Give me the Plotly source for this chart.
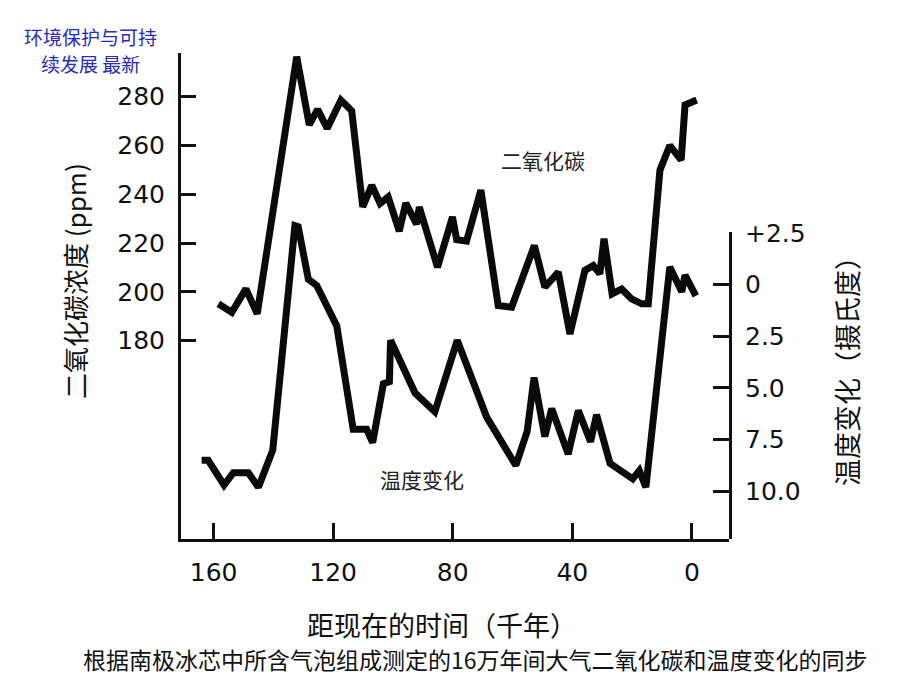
import plotly.graph_objects as go

# ---- data (thousand years before present) ----
co2_time = [158.4, 153.9, 149.2, 145.4, 132.2, 128.0, 125.2, 122.0, 117.4, 113.8,
            110.1, 107.1, 104.3, 101.6, 97.9, 95.7, 92.1, 91.2, 85.1, 80.1,
            78.7, 75.4, 70.6, 64.8, 60.3, 52.7, 49.2, 44.7, 40.8, 35.8,
            33.0, 30.8, 29.4, 26.7, 23.5, 20.2, 16.8, 14.6, 10.7, 7.4,
            3.6, 2.3, -1.6]
co2_ppm = [195.1, 191.6, 201.2, 191.0, 296.4, 268.4, 274.8, 267.0, 278.6, 274.2,
           234.8, 243.7, 236.2, 238.9, 224.9, 236.4, 227.7, 234.8, 210.1, 230.7,
           221.4, 220.8, 241.7, 194.4, 193.7, 219.0, 201.9, 208.1, 182.7, 208.8,
           210.8, 207.4, 221.8, 199.2, 201.2, 197.1, 195.1, 195.1, 249.9, 260.0,
           254.0, 276.6, 278.6]

temp_time = [164.0, 161.8, 156.5, 153.4, 148.4, 145.0, 140.2, 132.8, 131.7, 128.3,
             125.5, 118.8, 113.3, 108.8, 106.8, 103.2, 101.2, 100.8, 92.6, 86.0,
             78.5, 68.7, 58.9, 55.1, 52.8, 49.2, 46.9, 41.4, 38.0, 33.9,
             31.9, 27.4, 19.8, 17.6, 15.4, 7.4, 3.4, 2.3, -1.3]
temp_change = [8.5, 8.5, 9.7, 9.1, 9.1, 9.8, 8.0, -2.85, -2.8, -0.25,
               0.05, 2.0, 7.0, 7.0, 7.65, 4.8, 4.7, 2.7, 5.25, 6.15,
               2.7, 6.4, 8.75, 7.1, 4.5, 7.35, 6.0, 8.2, 6.1, 7.6,
               6.3, 8.65, 9.4, 9.0, 9.8, -0.85, 0.35, -0.45, 0.55]

x_ticks = [160, 120, 80, 40, 0]
co2_ticks = [180, 200, 220, 240, 260, 280]
temp_ticks = [-2.5, 0, 2.5, 5.0, 7.5, 10.0]
temp_tick_text = ["+2.5", "0", "2.5", "5.0", "7.5", "10.0"]

# ---- layout geometry (page has an 8px body margin) ----
OFF = 8
W, H = 920 - OFF, 690 - OFF
L, R, T, B = 181, 729, 53, 539          # plot box in window pixels
PW, PH = R - L, B - T


def px(xp):
    return (xp - L) / PW


def py(yp):
    return (B - yp) / PH


TICKFONT = dict(family="DejaVu Sans", size=25, color="#111111")
CJK = "Noto Sans CJK SC"

fig = go.Figure()
fig.add_trace(go.Scatter(x=co2_time, y=co2_ppm, mode="lines",
                         line=dict(color="#0a0a0a", width=7),
                         yaxis="y", hoverinfo="skip", showlegend=False))
fig.add_trace(go.Scatter(x=temp_time, y=temp_change, mode="lines",
                         line=dict(color="#0a0a0a", width=7),
                         yaxis="y2", hoverinfo="skip", showlegend=False))
# carrier for the short right-hand temperature axis
fig.add_trace(go.Scatter(x=[], y=[], yaxis="y3", hoverinfo="skip", showlegend=False))

t_top_full = (T - 284.5) / 20.68
t_bot = (B - 284.5) / 20.68
t_top_short = (232 - 284.5) / 20.68
short_dom = (B - 232) / PH

fig.update_layout(
    width=W, height=H,
    margin=dict(l=L - OFF, r=920 - R, t=T - OFF, b=690 - B),
    paper_bgcolor="white", plot_bgcolor="rgba(0,0,0,0)",
    xaxis=dict(range=[170.9, -12.4], tickvals=x_ticks, ticks="inside", ticklen=16,
               tickwidth=2.5, tickcolor="#111", showline=True, linewidth=3,
               linecolor="#111", showgrid=False, zeroline=False, tickfont=TICKFONT,
               ticklabelstandoff=9),
    yaxis=dict(range=[98.7, 297.9], tickvals=co2_ticks, ticks="inside", ticklen=15,
               tickwidth=2.5, tickcolor="#111", showline=True, linewidth=3,
               linecolor="#111", showgrid=False, zeroline=False, tickfont=TICKFONT,
               ticklabelstandoff=8),
    yaxis2=dict(range=[t_bot, t_top_full], overlaying="y", side="right", visible=False,
                showgrid=False, zeroline=False),
    yaxis3=dict(range=[t_bot, t_top_short], domain=[0, short_dom], anchor="x",
                side="right", tickvals=temp_ticks, ticktext=temp_tick_text,
                ticks="inside", ticklen=16, tickwidth=2.5, tickcolor="#111",
                showline=True, linewidth=3, linecolor="#111", showgrid=False,
                zeroline=False, tickfont=TICKFONT, ticklabelstandoff=8),
)

ann = [
    dict(text="二氧化碳", x=px(543), y=py(160), size=21, angle=0, color="#222"),
    dict(text="温度变化", x=px(422), y=py(479), size=21, angle=0, color="#222"),
    dict(text="二氧化碳浓度 (ppm)", x=px(74), y=py(281), size=26, angle=-90, color="#111"),
    dict(text="温度变化（摄氏度）", x=px(846), y=py(365), size=27, angle=-90, color="#111"),
    dict(text="距现在的时间（千年）", x=px(442), y=py(624), size=27, angle=0, color="#111"),
    dict(text="根据南极冰芯中所含气泡组成测定的16万年间大气二氧化碳和温度变化的同步",
         x=px(475), y=py(659), size=23, angle=0, color="#111"),
    dict(text="环境保护与可持", x=px(90), y=py(37), size=19, angle=0, color="#2a2ab8"),
    dict(text="续发展 最新", x=px(90), y=py(63), size=19, angle=0, color="#2a2ab8"),
]
for a in ann:
    fig.add_annotation(text=a["text"], x=a["x"], y=a["y"], xref="paper", yref="paper",
                       showarrow=False, textangle=a["angle"], xanchor="center",
                       yanchor="middle", borderpad=0,
                       font=dict(family=CJK, size=a["size"], color=a["color"]))

fig.write_html("out.html")
